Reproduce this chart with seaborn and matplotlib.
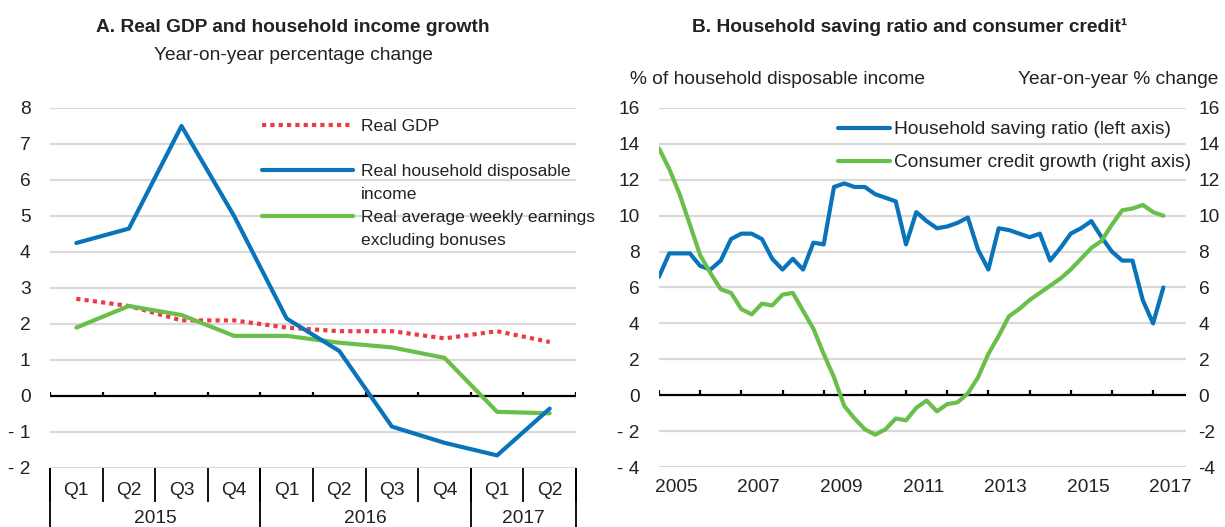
import numpy as np
import pandas as pd
import matplotlib
matplotlib.use("Agg")
import matplotlib.pyplot as plt
from matplotlib.lines import Line2D
import seaborn as sns

# ---- data, panel A (quarterly, 2015Q1-2017Q2) ----
quarters = ["Q1", "Q2", "Q3", "Q4", "Q1", "Q2", "Q3", "Q4", "Q1", "Q2"]
years_a = ["2015", "2016", "2017"]
year_span = [4, 4, 2]
real_gdp = [2.7, 2.5, 2.1, 2.1, 1.9, 1.8, 1.8, 1.6, 1.8, 1.5]
real_hdi = [4.25, 4.65, 7.5, 5.0, 2.15, 1.25, -0.85, -1.3, -1.65, -0.35]
real_awe = [1.9, 2.5, 2.25, 1.67, 1.67, 1.48, 1.35, 1.06, -0.44, -0.48]

# ---- data, panel B (quarterly, 2005Q1-2017Q2) ----
saving_ratio = [6.6, 7.9, 7.9, 7.9, 7.2, 7.0, 7.5, 8.7, 9.0, 9.0,
                8.7, 7.6, 7.0, 7.6, 7.0, 8.5, 8.4, 11.6, 11.8, 11.6,
                11.6, 11.2, 11.0, 10.8, 8.4, 10.2, 9.7, 9.3, 9.4, 9.6,
                9.9, 8.1, 7.0, 9.3, 9.2, 9.0, 8.8, 9.0, 7.5, 8.2,
                9.0, 9.3, 9.7, 8.8, 8.0, 7.5, 7.5, 5.3, 4.0, 6.0]
credit_growth = [13.75, 12.6, 11.2, 9.5, 7.8, 6.8, 5.9, 5.7, 4.8, 4.5,
                 5.1, 5.0, 5.6, 5.7, 4.7, 3.7, 2.3, 1.0, -0.6, -1.3,
                 -1.9, -2.2, -1.9, -1.3, -1.4, -0.7, -0.3, -0.9, -0.5, -0.4,
                 0.1, 1.0, 2.3, 3.3, 4.4, 4.8, 5.3, 5.7, 6.1, 6.5,
                 7.0, 7.6, 8.2, 8.6, 9.5, 10.3, 10.4, 10.6, 10.2, 10.0]
year_labels_b = ["2005", "2007", "2009", "2011", "2013", "2015", "2017"]

BLUE = "#0a74bb"
GREEN = "#6abf4b"
RED = "#ee3a43"
GRID = "#d9d9d9"
TXT = "#222222"

sns.set_theme(style="white")
plt.rcParams["font.family"] = ["Liberation Sans", "DejaVu Sans"]
plt.rcParams["text.color"] = TXT
plt.rcParams["axes.labelcolor"] = TXT
plt.rcParams["xtick.color"] = TXT
plt.rcParams["ytick.color"] = TXT
FS = 13.8

fig = plt.figure(figsize=(12.25, 5.27), dpi=100)
W, H = 1225, 527
axA = fig.add_axes([50 / W, 1 - 468 / H, (576 - 50) / W, (468 - 108) / H])
axB = fig.add_axes([659 / W, 1 - 467 / H, (1186 - 659) / W, (467 - 108) / H])

# ---------------- panel A ----------------
pos = np.arange(len(quarters))
dfA = pd.DataFrame({"pos": pos, "gdp": real_gdp, "hdi": real_hdi, "awe": real_awe})

for yv in range(-2, 9):
    if yv != 0:
        axA.axhline(yv, color=GRID, lw=1.6, zorder=0)
axA.axhline(0, color="black", lw=1.6, zorder=1)

sns.lineplot(data=dfA, x="pos", y="gdp", ax=axA, color=RED, lw=3,
             linestyle=(0, (1, 1)), label="Real GDP", zorder=3)
sns.lineplot(data=dfA, x="pos", y="hdi", ax=axA, color=BLUE, lw=3,
             label="Real household disposable", zorder=4)
sns.lineplot(data=dfA, x="pos", y="awe", ax=axA, color=GREEN, lw=3,
             label="Real average weekly earnings", zorder=3)

axA.set_xlim(-0.5, len(quarters) - 0.5)
axA.set_ylim(-2, 8)
axA.set_yticks(range(-2, 9))
axA.set_yticklabels([str(v) if v >= 0 else "- " + str(-v) for v in range(-2, 9)], fontsize=FS)
axA.tick_params(axis="y", length=0, pad=14)
axA.set_xlabel("")
axA.set_ylabel("")
for s in axA.spines.values():
    s.set_visible(False)

# category axis below
bounds = np.arange(len(quarters) + 1) - 0.5
axA.set_xticks(pos)
axA.set_xticklabels(quarters, fontsize=FS)
axA.tick_params(axis="x", length=0, pad=10)
tr = axA.get_xaxis_transform()
axA.vlines(bounds, 0, 0.12, color="black", lw=1.6, zorder=2)
axA.vlines(bounds, -0.095, 0, transform=tr, color="black", lw=1.3, clip_on=False)
cum = np.concatenate([[0], np.cumsum(year_span)]) - 0.5
axA.vlines(cum, -0.175, 0, transform=tr, color="black", lw=1.3, clip_on=False)
for i, yr in enumerate(years_a):
    axA.text((cum[i] + cum[i + 1]) / 2, -0.14, yr, transform=tr, ha="center",
             va="center", fontsize=FS)

# legend: wrapped labels, handle level with the first line
hA, lA = axA.get_legend_handles_labels()
blank = Line2D([], [], color="none")
legA = axA.legend([hA[0], blank, hA[1], blank, hA[2], blank],
                  [lA[0], " ", lA[1], "income", lA[2], "excluding bonuses"],
                  loc="upper left", bbox_to_anchor=(0.39, 0.99), frameon=False,
                  fontsize=12.6, handlelength=5.2, handletextpad=0.45,
                  labelspacing=0.43, borderaxespad=0)

fig.text(293 / W, 1 - 27 / H, "A. Real GDP and household income growth",
         ha="center", va="center", fontsize=FS, fontweight="bold")
fig.text(293 / W, 1 - 55 / H, "Year-on-year percentage change",
         ha="center", va="center", fontsize=FS)

# ---------------- panel B ----------------
xq = 2005 + np.arange(len(saving_ratio)) / 4
dfB = pd.DataFrame({"t": xq, "saving": saving_ratio, "credit": credit_growth})

for yv in range(-4, 17, 2):
    if yv != 0:
        axB.axhline(yv, color=GRID, lw=1.6, zorder=0)
axB.axhline(0, color="black", lw=1.6, zorder=1)
axB.vlines(np.arange(2005, 2018), 0, 0.28, color="black", lw=1.6, zorder=2)

ax2 = axB.twinx()
sns.lineplot(data=dfB, x="t", y="saving", ax=axB, color=BLUE, lw=3, zorder=4,
             label="Household saving ratio (left axis)")
sns.lineplot(data=dfB, x="t", y="credit", ax=ax2, color=GREEN, lw=3, zorder=3,
             label="Consumer credit growth (right axis)")

for a in (axB, ax2):
    a.set_ylim(-4, 16)
    a.set_xlim(2005, 2017.8)
    a.set_xlabel("")
    a.set_ylabel("")
    for s in a.spines.values():
        s.set_visible(False)
axB.set_yticks(range(-4, 17, 2))
axB.set_yticklabels([str(v) if v >= 0 else "- " + str(-v) for v in range(-4, 17, 2)], fontsize=FS)
ax2.set_yticks(range(-4, 17, 2))
ax2.set_yticklabels([str(v) for v in range(-4, 17, 2)], fontsize=FS)
axB.tick_params(axis="y", length=0, pad=14)
ax2.tick_params(axis="y", length=0, pad=9)
axB.set_xticks([int(y) + 0.42 for y in year_labels_b])
axB.set_xticklabels(year_labels_b, fontsize=FS)
axB.tick_params(axis="x", length=0, pad=9)

h1, l1 = axB.get_legend_handles_labels()
h2, l2 = ax2.get_legend_handles_labels()
axB.get_legend().remove()
ax2.get_legend().remove()
ax2.legend(h1 + h2, l1 + l2, loc="upper left", bbox_to_anchor=(0.325, 0.985),
           frameon=False, fontsize=FS, handlelength=2.7, handletextpad=0.25,
           labelspacing=0.8, borderaxespad=0)

fig.text(910 / W, 1 - 27 / H, "B. Household saving ratio and consumer credit\u00b9",
         ha="center", va="center", fontsize=FS, fontweight="bold")
fig.text(630 / W, 1 - 80 / H, "% of household disposable income",
         ha="left", va="center", fontsize=FS)
fig.text(1218 / W, 1 - 80 / H, "Year-on-year % change",
         ha="right", va="center", fontsize=FS)

fig.savefig("out.png", dpi=100)
